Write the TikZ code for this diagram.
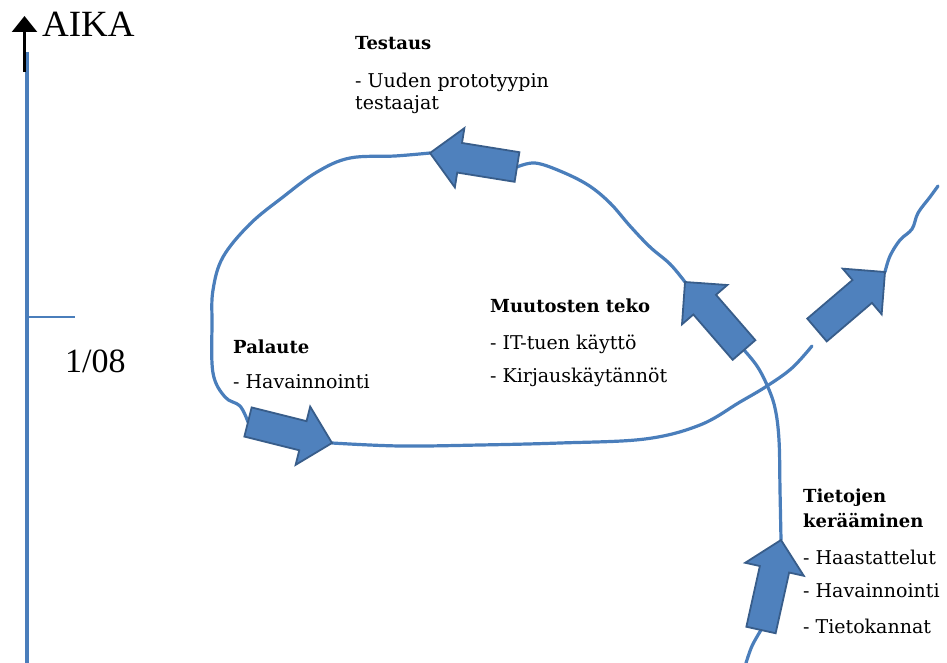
\documentclass[tikz,border=0pt]{standalone}
\usepackage{fontspec}
\setmainfont{Liberation Serif}
\newfontfamily\bodyfont{DejaVu Serif}
\usetikzlibrary{calc,arrows.meta}
\definecolor{lineblue}{HTML}{4A7EBB}
\definecolor{fillblue}{HTML}{4F81BD}
\definecolor{edgeblue}{HTML}{385D8A}
\tikzset{
  flow/.style={draw=lineblue, line width=3.2pt, line cap=round, line join=round},
  blockarrow/.style={fill=fillblue, draw=edgeblue, line width=1.8pt, line join=miter},
  headtext/.style={font=\bodyfont\bfseries\fontsize{18}{20}\selectfont, anchor=base west, inner sep=0pt},
  itemtext/.style={font=\bodyfont\fontsize{19}{21}\selectfont, anchor=base west, inner sep=0pt},
}
% block arrow from tail (#1) to tip (#2)
\newcommand{\blockarr}[2]{%
  \coordinate (bh) at ($(#2)!30pt!(#1)$);
  \filldraw[blockarrow] ($(#1)!15pt!90:(#2)$) -- ($(bh)!15pt!90:(#2)$) -- ($(bh)!30pt!90:(#2)$)
    -- (#2) -- ($(bh)!30pt!-90:(#2)$) -- ($(bh)!15pt!-90:(#2)$) -- ($(#1)!15pt!-90:(#2)$) -- cycle;}
\begin{document}
\begin{tikzpicture}[x=1pt,y=-1pt]
\useasboundingbox (0,0) rectangle (947,663);
% time axis
\coordinate (axtop) at (27,52);
\coordinate (axbot) at (27,663);
\draw[lineblue, line width=4pt] (axtop) -- (axbot);
\coordinate (tickL) at (27,317);
\coordinate (tickR) at (75,317);
\draw[lineblue, line width=2pt] (tickL) -- (tickR);
\coordinate (arrS) at (24.5,72);
\coordinate (arrE) at (24.5,16);
\draw[black, line width=2.4pt, -{Triangle[width=25pt,length=16pt]}] (arrS) -- (arrE);
\node[anchor=base west, inner sep=0pt, font=\fontsize{37}{40}\selectfont] (aika) at (42,37) {AIKA};
\node[anchor=base west, inner sep=0pt, font=\fontsize{34}{38}\selectfont] (date) at (65,372) {1/08};

% arrow anchor points
\coordinate (t1) at (761,630); \coordinate (h1) at (781,540);   % Tietojen
\coordinate (tM) at (744,350); \coordinate (hM) at (685,282);   % Muutosten
\coordinate (tT) at (517,167); \coordinate (hT) at (430,153);   % Testaus
\coordinate (tP) at (248,422); \coordinate (hP) at (332,443);   % Palaute
\coordinate (tR) at (817,330); \coordinate (hR) at (885,272);   % exit
\coordinate (start) at (746,663);
\coordinate (finish) at (938,186);

% flow line
\draw[flow] plot[smooth, tension=0.6] coordinates {(start) (752,646) (t1)};
\draw[flow] plot[smooth, tension=0.6] coordinates {(h1) (780,490) (779,440) (775,408) (767,385) (757,366) (tM)};
\draw[flow] plot[smooth, tension=0.6] coordinates {(hM) (670,264) (650,247) (630,226) (610,203) (588,185) (560,171) (535,163) (tT)};
\draw[flow] plot[smooth, tension=0.6] coordinates {(hT) (395,156) (350,158) (317,172) (283,197) (250,224) (223,257) (213,290) (212,323) (213,373) (225,397) (240,406) (tP)};
\draw[flow] plot[smooth, tension=0.6] coordinates {(hP) (400,446) (480,445) (560,443) (645,439) (700,425) (740,402) (767,386) (792,368) (812,346)};
\draw[flow] plot[smooth, tension=0.6] coordinates {(hR) (890,256) (900,240) (912,229) (918,213) (930,197) (finish)};

% block arrows
\blockarr{t1}{h1}
\blockarr{tM}{hM}
\blockarr{tT}{hT}
\blockarr{tP}{hP}
\blockarr{tR}{hR}

% texts
\node[headtext] (testh) at (355,50) {Testaus};
\node[itemtext] (test1) at (355,88) {- Uuden prototyypin};
\node[itemtext] (test2) at (355,110) {testaajat};

\node[headtext] (muuth) at (490,312) {Muutosten teko};
\node[itemtext] (muut1) at (490,349) {- IT-tuen käyttö};
\node[itemtext] (muut2) at (490,382) {- Kirjauskäytännöt};

\node[headtext] (palh) at (233,353) {Palaute};
\node[itemtext] (pal1) at (233,388) {- Havainnointi};

\node[headtext] (tieh1) at (803,502) {Tietojen};
\node[headtext] (tieh2) at (803,527) {kerääminen};
\node[itemtext] (tie1) at (803,564) {- Haastattelut};
\node[itemtext] (tie2) at (803,597) {- Havainnointi};
\node[itemtext] (tie3) at (803,633) {- Tietokannat};
\end{tikzpicture}
\end{document}
